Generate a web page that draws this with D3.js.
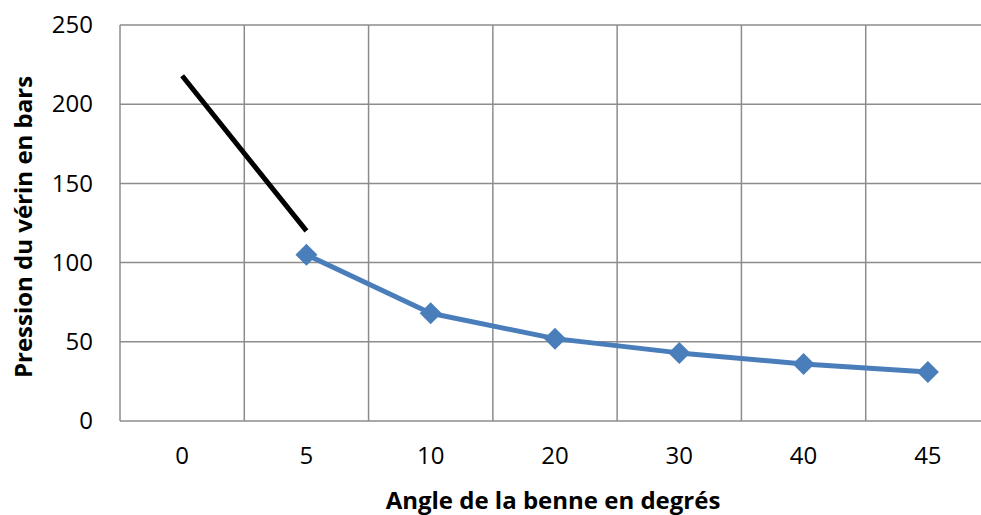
<!DOCTYPE html>
<html>
<head>
<meta charset="utf-8">
<script src="https://cdn.jsdelivr.net/npm/d3@7"></script>
<style>
  body { margin: 0; background: #fff; }
  svg { display: block; font-family: "Open Sans", "Liberation Sans", sans-serif; }
  .tick text { font-size: 24px; font-family: "Open Sans", sans-serif; fill: #000; }
</style>
</head>
<body>
<svg width="981" height="515"></svg>
<script>
// angles (categories) and measured pressures
var angles = ["0", "5", "10", "20", "30", "40", "45"];
var pression = [null, 105, 68, 52, 43, 36, 31];
// black trend segment drawn by hand in the original
var trendAngles = ["0", "5"];
var trendValues = [218, 120];
var yTicks = [0, 50, 100, 150, 200, 250];

var svg = d3.select("svg"),
    margin = {top: 25, right: -9, bottom: 94, left: 120},
    width = 981 - margin.left - margin.right,
    height = 515 - margin.top - margin.bottom,
    g = svg.append("g").attr("transform", "translate(" + margin.left + "," + margin.top + ")");

var x = d3.scaleBand().domain(angles).range([0, width]);
var y = d3.scaleLinear().domain([0, 250]).range([height, 0]);

var gridColor = "#8c8c8c";

// horizontal grid
g.append("g")
    .selectAll("line")
    .data(yTicks)
    .enter().append("line")
    .attr("x1", 0).attr("x2", width)
    .attr("y1", function(d) { return y(d); })
    .attr("y2", function(d) { return y(d); })
    .attr("stroke", gridColor)
    .attr("stroke-width", 1.5);

// vertical grid at category boundaries
g.append("g")
    .selectAll("line")
    .data(angles.concat(["end"]))
    .enter().append("line")
    .attr("x1", function(d, i) { return i < angles.length ? x(d) : width; })
    .attr("x2", function(d, i) { return i < angles.length ? x(d) : width; })
    .attr("y1", 0).attr("y2", height)
    .attr("stroke", gridColor)
    .attr("stroke-width", 1.5);

/* --------- y axis --------- */
var yAxis = g.append("g")
    .call(d3.axisLeft(y).tickValues(yTicks).tickSize(0).tickPadding(27));
yAxis.select(".domain").remove();

/* --------- x axis --------- */
var xAxis = g.append("g")
    .attr("transform", "translate(0," + height + ")")
    .call(d3.axisBottom(x).tickSize(0).tickPadding(26));
xAxis.select(".domain").remove();

// axis titles
svg.append("text")
    .attr("x", 553)
    .attr("y", 509)
    .attr("text-anchor", "middle")
    .attr("font-size", 24)
    .attr("font-weight", "bold")
    .text("Angle de la benne en degrés");

svg.append("text")
    .attr("transform", "translate(32,227) rotate(-90)")
    .attr("text-anchor", "middle")
    .attr("font-size", 24)
    .attr("font-weight", "bold")
    .text("Pression du vérin en bars");

// black segment
var cx = function(a) { return x(a) + x.bandwidth() / 2; };
g.append("path")
    .datum(trendAngles.map(function(a, i) { return [a, trendValues[i]]; }))
    .attr("fill", "none")
    .attr("stroke", "#000")
    .attr("stroke-width", 5)
    .attr("d", d3.line()
        .x(function(d) { return cx(d[0]); })
        .y(function(d) { return y(d[1]); }));

// blue series
var pts = angles.map(function(a, i) { return [a, pression[i]]; })
    .filter(function(d) { return d[1] !== null; });

g.append("path")
    .datum(pts)
    .attr("fill", "none")
    .attr("stroke", "#4a7ebb")
    .attr("stroke-width", 5)
    .attr("stroke-linejoin", "round")
    .attr("d", d3.line()
        .x(function(d) { return cx(d[0]); })
        .y(function(d) { return y(d[1]); }));

g.append("g")
    .selectAll("path")
    .data(pts)
    .enter().append("path")
    .attr("d", "M0,-11L11,0L0,11L-11,0Z")
    .attr("fill", "#4a7ebb")
    .attr("transform", function(d) { return "translate(" + cx(d[0]) + "," + y(d[1]) + ")"; });
</script>
</body>
</html>
